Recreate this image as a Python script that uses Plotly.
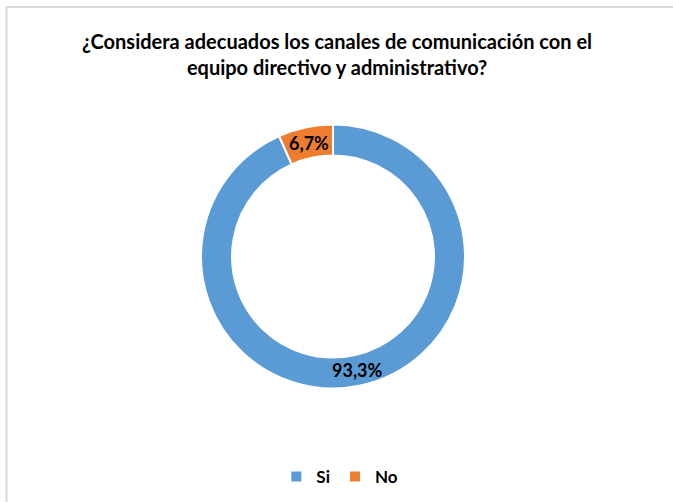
import math
import plotly.graph_objects as go

categories = ["Si", "No"]
values = [93.3, 6.7]
text_labels = ["93,3%", "6,7%"]
colors = ["#5B9BD5", "#ED7D31"]
title_text = "¿Considera adecuados los canales de comunicación con el<br>equipo directivo y administrativo?"

W, H = 673, 502
FONT = "Lato"

cx, cy, R = 333, 256.5, 132
HOLE = 0.765

fig = go.Figure(go.Pie(
    labels=categories,
    values=values,
    textinfo="none",
    hole=HOLE,
    sort=False,
    direction="clockwise",
    rotation=0,
    marker=dict(colors=colors, line=dict(color="white", width=2)),
    domain=dict(x=[(cx - R) / W, (cx + R) / W], y=[1 - (cy + R) / H, 1 - (cy - R) / H]),
    hoverinfo="label+percent",
))

def px_x(p):
    return p / W

def px_y(p):
    return 1 - p / H

# label positions derived from slice mid-angles (clockwise from 12 o'clock)
annotations = []
total = sum(values)
cum = 0.0
r_mid = R * (1 + HOLE) / 2
for v, t in zip(values, text_labels):
    mid = (cum + v / 2) / total * 2 * math.pi
    cum += v
    x = cx + r_mid * math.sin(mid)
    y = cy - r_mid * math.cos(mid)
    annotations.append(dict(
        text=t, x=px_x(x), y=px_y(y), xref="paper", yref="paper",
        xanchor="center", yanchor="middle", showarrow=False,
        font=dict(family=FONT, size=18, color="black", weight="bold"),
    ))

annotations.append(dict(
    text=title_text, x=0.5, y=px_y(54), xref="paper", yref="paper",
    xanchor="center", yanchor="middle", showarrow=False,
    font=dict(family=FONT, size=20, color="black", weight="bold"),
))

fig.update_layout(
    width=W, height=H,
    margin=dict(l=0, r=0, t=0, b=0),
    paper_bgcolor="white",
    plot_bgcolor="white",
    showlegend=True,
    legend=dict(
        orientation="h", x=0.505, xanchor="center", y=px_y(477), yanchor="middle",
        font=dict(family=FONT, size=17, color="black", weight="bold"),
        itemwidth=30, traceorder="normal",
    ),
    annotations=annotations,
    shapes=[
        dict(type="line", xref="paper", yref="paper", x0=px_x(6.5), x1=px_x(700), y0=px_y(7), y1=px_y(7),
             line=dict(color="#D9D9D9", width=2)),
        dict(type="line", xref="paper", yref="paper", x0=px_x(6.5), x1=px_x(6.5), y0=px_y(7), y1=px_y(540),
             line=dict(color="#D9D9D9", width=2)),
    ],
)

fig.write_html("out.html")
